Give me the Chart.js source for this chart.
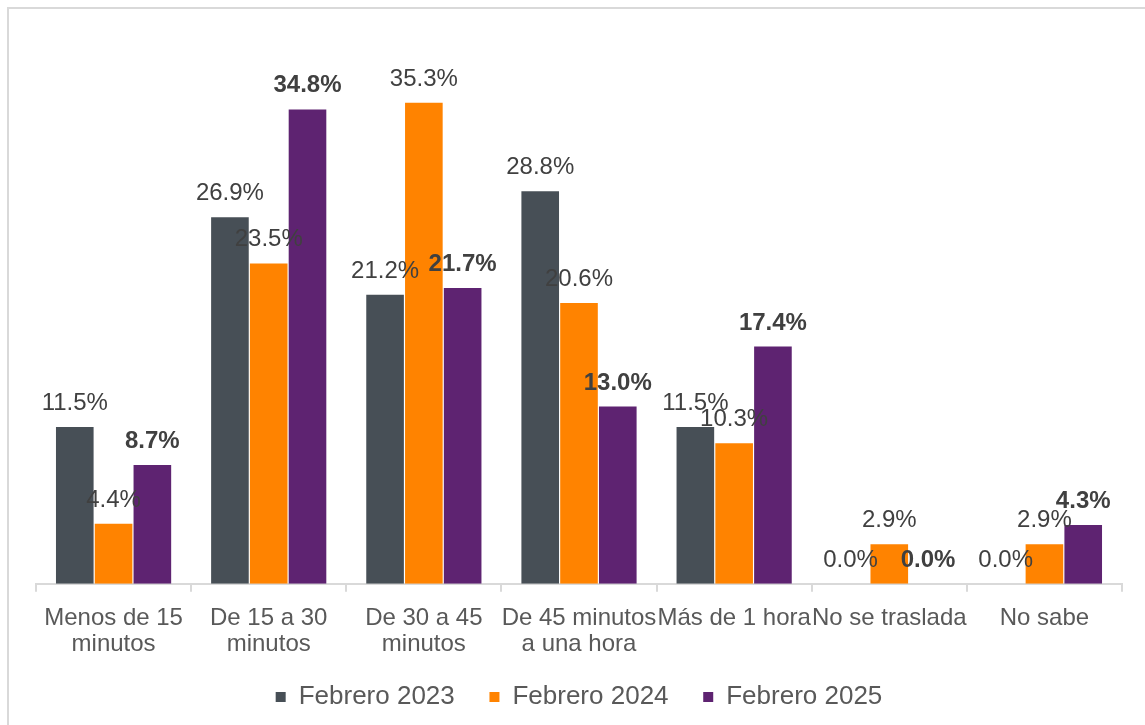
<!DOCTYPE html>
<html lang="es">
<head>
    <meta charset="UTF-8">
    <title>Tiempo de traslado</title>
    <script src="https://cdn.jsdelivr.net/npm/chart.js@4/dist/chart.umd.min.js"></script>
    <style>
        body { margin: 0; background: #fff; }
        #frame { position: absolute; left: 7px; top: 7px; width: 1160px; height: 740px; border: 2px solid #d9d9d9; }
        #wrap { position: absolute; left: 0; top: 0; }
    </style>
</head>
<body>
<div id="frame"></div>
<div id="wrap"><canvas id="chart" width="1145" height="725"></canvas></div>

<script>
    const categories = [
        ['Menos de 15', 'minutos'],
        ['De 15 a 30', 'minutos'],
        ['De 30 a 45', 'minutos'],
        ['De 45 minutos', 'a una hora'],
        'Más de 1 hora',
        'No se traslada',
        'No sabe'
    ];
    const feb2023 = [11.5, 26.9, 21.2, 28.8, 11.5, 0.0, 0.0];
    const feb2024 = [4.4, 23.5, 35.3, 20.6, 10.3, 2.9, 2.9];
    const feb2025 = [8.7, 34.8, 21.7, 13.0, 17.4, 0.0, 4.3];

    const FONT = '"Liberation Sans", Arial, sans-serif';

    // draws the percentage above every bar
    const valueLabels = {
        id: 'valueLabels',
        afterDatasetsDraw(chart) {
            const {ctx} = chart;
            ctx.save();
            ctx.textAlign = 'center';
            ctx.textBaseline = 'alphabetic';
            ctx.fillStyle = '#404040';
            chart.data.datasets.forEach((ds, i) => {
                const meta = chart.getDatasetMeta(i);
                ctx.font = (i === 2 ? 'bold ' : '') + '24px ' + FONT;
                meta.data.forEach((bar, j) => {
                    ctx.fillText(ds.data[j].toFixed(1) + '%', bar.x, bar.y - 17);
                });
            });
            ctx.restore();
        }
    };

    const defaultLabels = Chart.defaults.plugins.legend.labels.generateLabels;

    new Chart(document.getElementById('chart'), {
        type: 'bar',
        data: {
            labels: categories,
            datasets: [
                {label: 'Febrero 2023', data: feb2023, backgroundColor: '#474f56'},
                {label: 'Febrero 2024', data: feb2024, backgroundColor: '#ff8300'},
                {label: 'Febrero 2025', data: feb2025, backgroundColor: '#5e2371'}
            ]
        },
        options: {
            responsive: false,
            animation: false,
            datasets: {bar: {categoryPercentage: 0.75, barPercentage: 0.97}},
            layout: {padding: {left: 36, right: 23, top: 40, bottom: 5}},
            plugins: {
                tooltip: {enabled: false},
                legend: {
                    position: 'bottom',
                    labels: {
                        boxWidth: 10,
                        boxHeight: 10,
                        padding: 13,
                        color: '#595959',
                        font: {family: FONT, size: 26},
                        // a bit more room between the items
                        generateLabels(chart) {
                            const items = defaultLabels(chart);
                            items.forEach((it, i) => {
                                if (i < items.length - 1) it.text += '   ';
                            });
                            return items;
                        }
                    }
                }
            },
            scales: {
                y: {display: false, min: 0, max: 39.9},
                x: {
                    border: {color: '#d9d9d9', width: 2},
                    grid: {offset: true, drawOnChartArea: false, tickLength: 8, color: '#d9d9d9', lineWidth: 2},
                    ticks: {
                        color: '#595959',
                        padding: 14,
                        autoSkip: false,
                        maxRotation: 0,
                        font: {family: FONT, size: 24, lineHeight: 1.07}
                    }
                }
            }
        },
        plugins: [valueLabels]
    });
</script>
</body>
</html>
